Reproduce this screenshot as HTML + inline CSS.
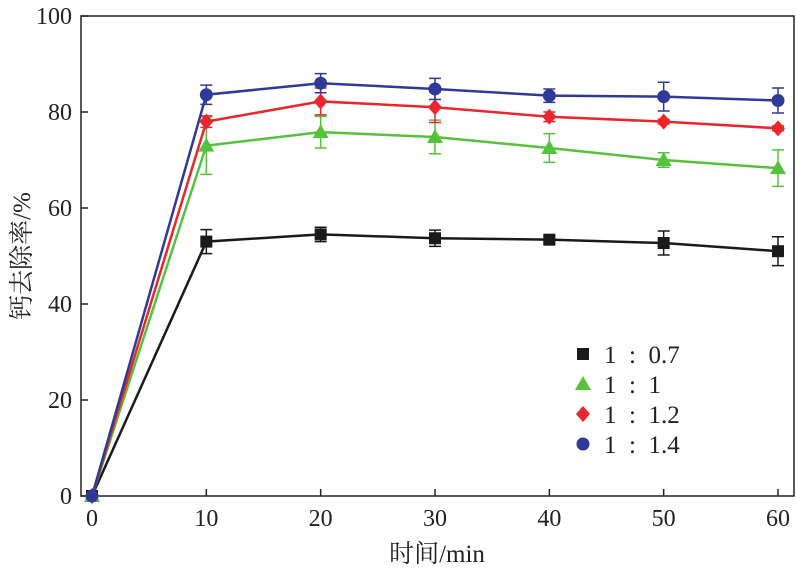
<!DOCTYPE html>
<html><head><meta charset="utf-8"><style>
body{margin:0;background:#fff}
svg text{font-family:"Liberation Serif","Noto Serif CJK SC",serif;fill:#222}
</style></head><body>
<svg id="c" width="796" height="574" xmlns="http://www.w3.org/2000/svg"></svg>
<script>
const xs=[0,10,20,30,40,50,60];
const yTicks=[0,20,40,60,80,100];
const seriesNames=["1  :  0.7","1  :  1","1  :  1.2","1  :  1.4"];
const s07=[0,53,54.5,53.7,53.4,52.7,51];
const s07e=[0,2.5,1.5,1.7,0.6,2.5,3];
const s10=[0,73,75.8,74.8,72.5,70,68.3];
const s10e=[0,6,3.3,3.5,3,1.5,3.8];
const s12=[0,78,82.2,81,79,78,76.6];
const s12e=[0,1.2,2.8,3.2,1,0.5,0.5];
const s14=[0,83.6,86,84.8,83.4,83.2,82.4];
const s14e=[0,2,2,2.2,1.4,3,2.6];
const colors=["#1a1a1a","#55c23e","#e8262b","#2f3a96"];
const shapes=["square","triangle","diamond","circle"];
const vals=[s07,s10,s12,s14],errs=[s07e,s10e,s12e,s14e];
const svg=document.getElementById('c');const NS="http://www.w3.org/2000/svg";
const X=v=>92+v*(778-92)/60, Y=v=>496-v*4.8;
function mk(t,a,p){const e=document.createElementNS(NS,t);for(const k in a)e.setAttribute(k,a[k]);(p||svg).appendChild(e);return e;}
let fr=mk('rect',{x:81,y:16,width:713,height:480,fill:'none',stroke:'#222','stroke-width':1.5});


xs.forEach(v=>{let l=mk('line',{x1:X(v),x2:X(v),y1:496,y2:489,stroke:'#222','stroke-width':1.5});


let t=mk('text',{x:X(v),y:526,'text-anchor':'middle','font-size':24});t.textContent=v;

});
yTicks.forEach(v=>{let l=mk('line',{x1:81,x2:88,y1:Y(v),y2:Y(v),stroke:'#222','stroke-width':1.5});


let t=mk('text',{x:72,y:Y(v)+8,'text-anchor':'end','font-size':24});t.textContent=v;

});
let xt=mk('text',{x:437,y:562,'text-anchor':'middle','font-size':25});xt.textContent='时间/min';


let yt=mk('text',{x:30,y:256,'text-anchor':'middle','font-size':25,transform:'rotate(-90 30 256)'});yt.textContent='钙去除率/%';


function marker(sh,cx,cy,col,g){
 if(sh==='square')return mk('rect',{x:cx-6,y:cy-6,width:12,height:12,fill:col},g);
 if(sh==='triangle')return mk('polygon',{points:`${cx},${cy-8} ${cx-8},${cy+6} ${cx+8},${cy+6}`,fill:col},g);
 if(sh==='diamond')return mk('polygon',{points:`${cx},${cy-8} ${cx+7},${cy} ${cx},${cy+8} ${cx-7},${cy}`,fill:col},g);
 return mk('circle',{cx:cx,cy:cy,r:6.5,fill:col},g);
}
vals.forEach((d,i)=>{
 const g=mk('g',{});
 
 
 const pl=mk('polyline',{points:d.map((v,j)=>X(xs[j])+','+Y(v)).join(' '),fill:'none',stroke:colors[i],'stroke-width':2.5},g);
 
 
 d.forEach((v,j)=>{
  const e=errs[i][j];
  if(e>0){const cx=X(xs[j]);
   const eb=mk('path',{d:`M${cx},${Y(v-e)}V${Y(v+e)}M${cx-6},${Y(v-e)}h12M${cx-6},${Y(v+e)}h12`,stroke:colors[i],'stroke-width':1.5,fill:'none'},g);
   
   }
  const m=marker(shapes[i],X(xs[j]),Y(v),colors[i],g);
  
  
 });
});
seriesNames.forEach((n,i)=>{
 const y=354+i*30;
 const g=mk('g',{});
 
 
 marker(shapes[i],583,y,colors[i],g);
 const t=mk('text',{x:604,y:y+9,'font-size':25},g);t.textContent=n;
 t.style.whiteSpace='pre';
});
</script>
</body></html>
